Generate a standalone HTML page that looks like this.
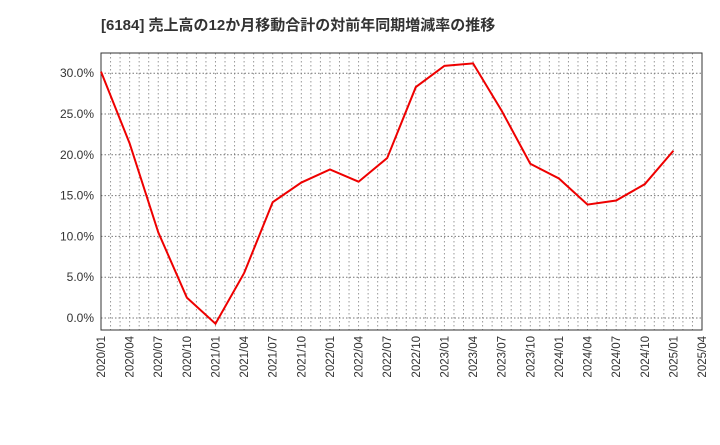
<!DOCTYPE html>
<html><head><meta charset="utf-8"><style>
body{margin:0;background:#fff;font-family:"Liberation Sans","Noto Sans CJK JP",sans-serif}
</style></head><body>
<svg width="720" height="440" xmlns="http://www.w3.org/2000/svg">
<text x="101" y="30" font-size="15" font-weight="bold" fill="#333" font-family="Liberation Sans, Noto Sans CJK JP, sans-serif">[6184]  売上高の12か月移動合計の対前年同期増減率の推移</text>
<g id="grid"></g>
<g id="yticks"></g>
<g id="xticks"></g>
<rect x="101" y="53" width="601" height="277" fill="none" stroke="#333"/>
<polyline id="line" fill="none" stroke="#e00" stroke-width="2"/>
</svg>
<script>
const categories=["2020/01","2020/04","2020/07","2020/10","2021/01","2021/04","2021/07","2021/10","2022/01","2022/04","2022/07","2022/10","2023/01","2023/04","2023/07","2023/10","2024/01","2024/04","2024/07","2024/10","2025/01"];
const values=[30.2,21.4,10.5,2.5,-0.7,5.5,14.2,16.6,18.2,16.7,19.6,28.3,30.9,31.2,25.4,18.9,17.1,13.9,14.4,16.4,20.5];
const xLabels=["2020/01","2020/04","2020/07","2020/10","2021/01","2021/04","2021/07","2021/10","2022/01","2022/04","2022/07","2022/10","2023/01","2023/04","2023/07","2023/10","2024/01","2024/04","2024/07","2024/10","2025/01","2025/04"];
const yTicks=[0,5,10,15,20,25,30];
const NS="http://www.w3.org/2000/svg";
const X0=101,X1=702,nQ=21;
const x=i=>X0+(X1-X0)*i/nQ;
const y=v=>318-v*8.16;
const grid=document.getElementById('grid'),yt=document.getElementById('yticks'),xt=document.getElementById('xticks');
function mk(t,a,p){const e=document.createElementNS(NS,t);for(const k in a)e.setAttribute(k,a[k]);p.appendChild(e);return e;}
for(let m=1;m<nQ*3;m++){const xx=X0+(X1-X0)*m/(nQ*3);
const l=mk('line',{x1:xx,x2:xx,y1:53,y2:330,stroke:'#999','stroke-dasharray':'1.5,2.5'},grid);

}
yTicks.forEach(v=>{const l=mk('line',{x1:X0,x2:X1,y1:y(v),y2:y(v),stroke:'#777','stroke-dasharray':'1.5,2'},grid);


const t=mk('text',{x:94,y:y(v)+4,'font-size':12,'text-anchor':'end',fill:'#333'},yt);t.textContent=v.toFixed(1)+'%';

});
xLabels.forEach((s,i)=>{const t=mk('text',{transform:`translate(${x(i)+4},336) rotate(-90)`,'font-size':11.5,'text-anchor':'end',fill:'#333'},xt);t.textContent=s;

});
document.getElementById('line').setAttribute('points',values.map((v,i)=>x(i)+','+y(v)).join(' '));
</script>
</body></html>
